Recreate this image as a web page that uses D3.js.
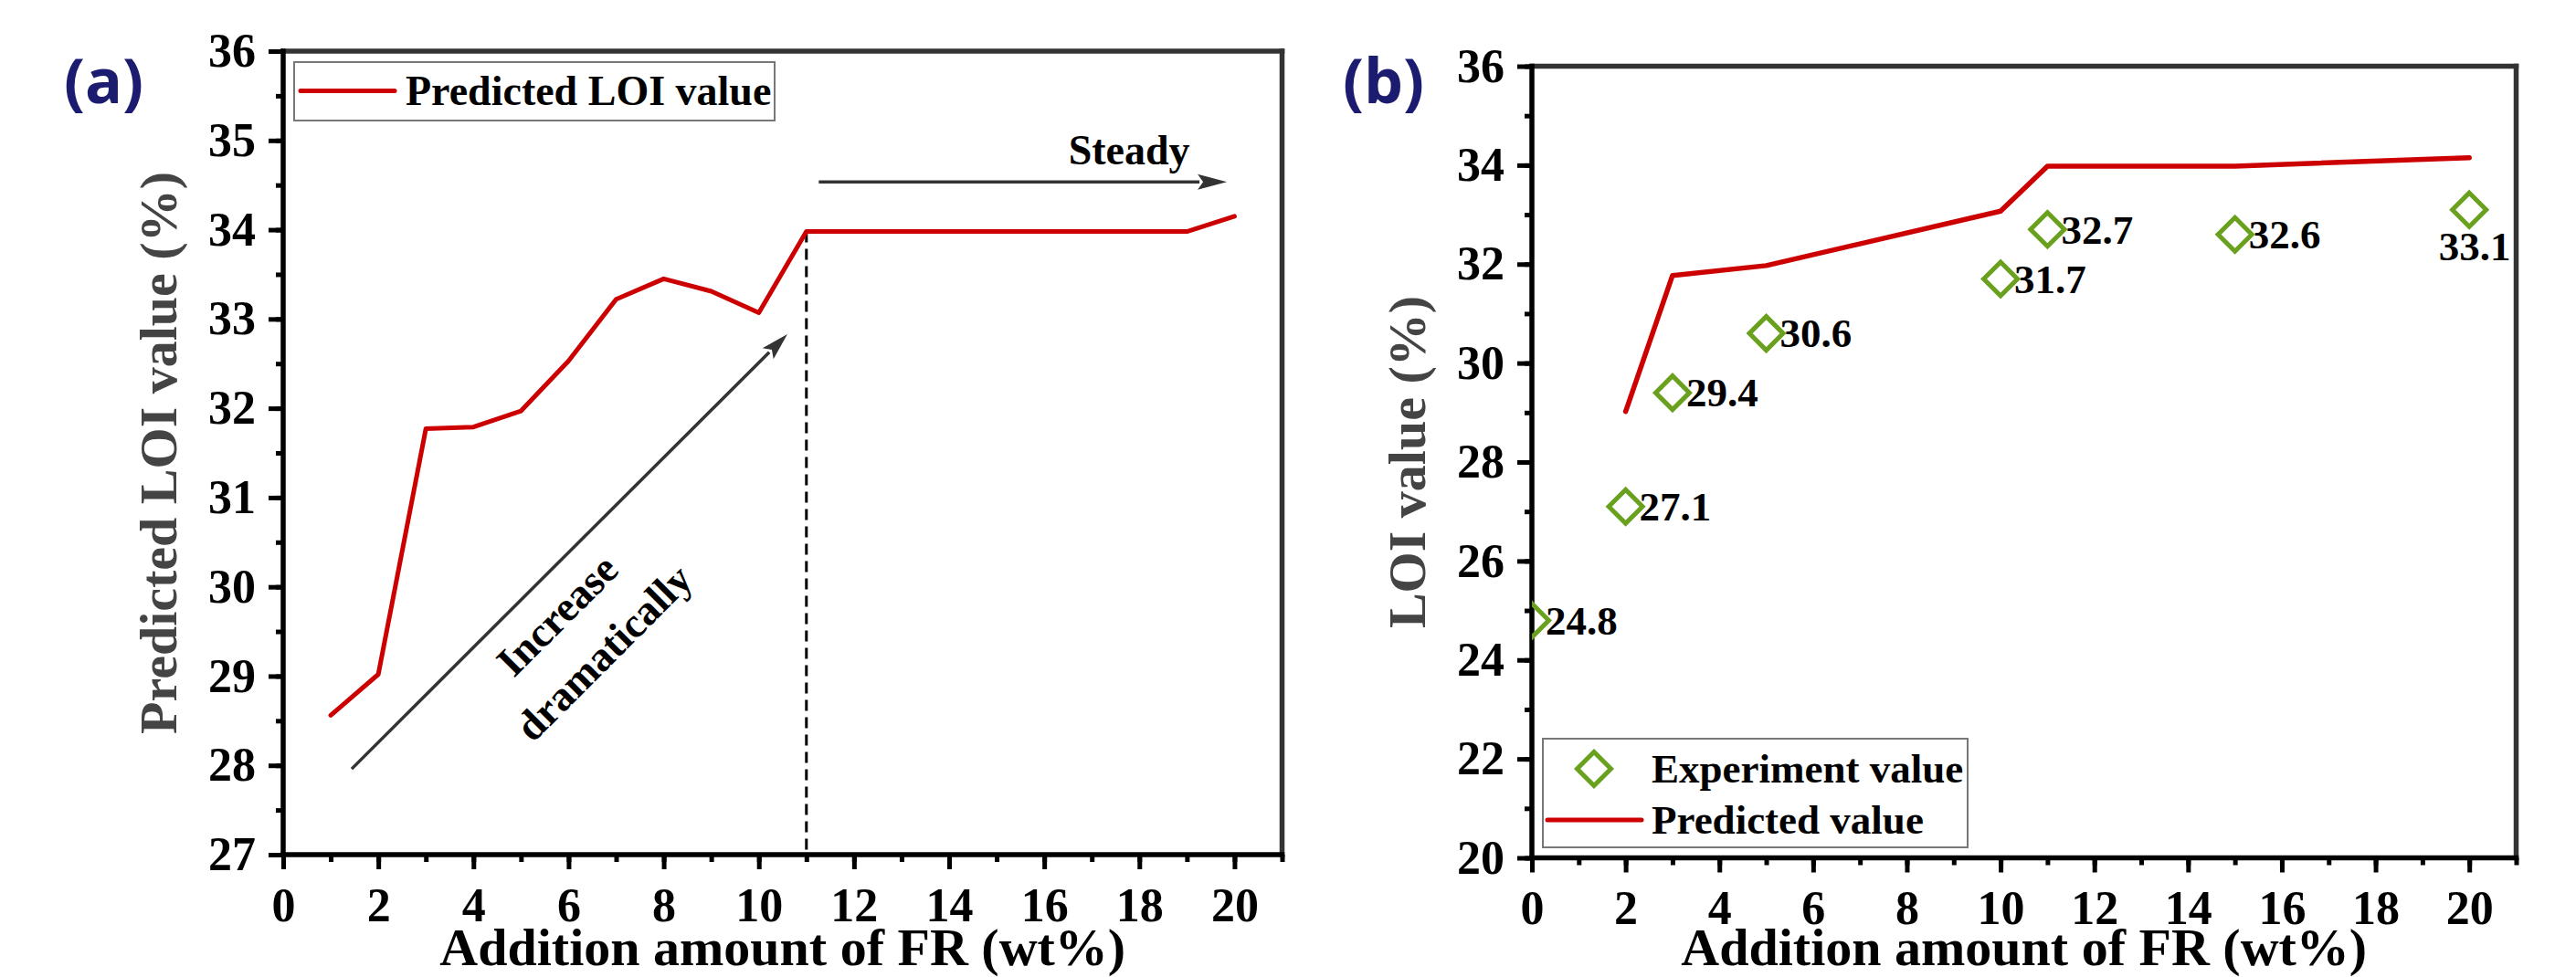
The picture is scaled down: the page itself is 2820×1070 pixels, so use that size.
<!DOCTYPE html>
<html>
<head>
<meta charset="utf-8">
<script src="https://cdn.jsdelivr.net/npm/d3@7/dist/d3.min.js"></script>
<style>
  html, body { margin: 0; padding: 0; background: #fff; }
  svg { display: block; }
  text { font-family: "Liberation Serif", "Times New Roman", serif; font-weight: bold; }
</style>
</head>
<body>
<svg id="chart" width="2820" height="1070"></svg>
<script>
// ---------- data ----------
const xTickValues = [0, 2, 4, 6, 8, 10, 12, 14, 16, 18, 20];
const xMinorValues = d3.range(0, 22, 1);

// panel (a)
const predA_x = [1, 2, 3, 4, 5, 6, 7, 8, 9, 10, 11, 12, 13, 14, 15, 16, 17, 18, 19, 20];
const predA_y = [28.56, 29.02, 31.77, 31.79, 31.97, 32.53, 33.22, 33.45, 33.31, 33.07,
                 33.98, 33.98, 33.98, 33.98, 33.98, 33.98, 33.98, 33.98, 33.98, 34.15];
const yTicksA = [27, 28, 29, 30, 31, 32, 33, 34, 35, 36];
const yMinorA = d3.range(27, 36.01, 0.5);
const dashedX = 11;
const arrowIncrease = [[1.44, 27.96], [10.6, 32.83]];
const arrowSteady = [[11.26, 34.535], [19.84, 34.535]];
const steadyText = {x: 16.51, y: 34.73, label: "Steady"};
const increaseText = [{x: 5.97, y: 29.57, label: "Increase"}, {x: 6.95, y: 29.15, label: "dramatically"}];

// panel (b)
const expX = [0, 2, 3, 5, 10, 11, 15, 20];
const expY = [24.8, 27.1, 29.4, 30.6, 31.7, 32.7, 32.6, 33.1];
const predB_x = [2, 3, 5, 10, 11, 15, 20];
const predB_y = [29.02, 31.77, 31.97, 33.07, 33.98, 33.98, 34.15];
const yTicksB = [20, 22, 24, 26, 28, 30, 32, 34, 36];
const yMinorB = d3.range(20, 36.01, 1);

// ---------- style ----------
const RED = "#cc0000";
const GREEN = "#69a11e";
const NAVY = "#1b1b6f";
const DARK = "#333333";

const svg = d3.select("#chart");

function panel(box, xDomain, yDomain, yMajor, yMinor, yTitle, titleBaseline) {
  const g = svg.append("g");
  const x = d3.scaleLinear(xDomain, [box.left, box.right]);
  const y = d3.scaleLinear(yDomain, [box.bottom, box.top]);

  // minor ticks
  g.append("g").attr("transform", `translate(0,${box.bottom})`)
    .call(d3.axisBottom(x).tickValues(xMinorValues).tickSize(8).tickSizeOuter(0).tickFormat(""))
    .call(s => s.select(".domain").remove());
  g.append("g").attr("transform", `translate(${box.left},0)`)
    .call(d3.axisLeft(y).tickValues(yMinor).tickSize(8).tickSizeOuter(0).tickFormat(""))
    .call(s => s.select(".domain").remove());
  // major ticks
  g.append("g").attr("transform", `translate(0,${box.bottom})`)
    .call(d3.axisBottom(x).tickValues(xTickValues).tickSize(16).tickPadding(20).tickSizeOuter(0).tickFormat(d3.format("d")))
    .call(s => s.select(".domain").remove())
    .call(s => s.selectAll("text").attr("font-size", 52).attr("fill", "#000")
      .style("font-family", '"Liberation Serif", serif').style("font-weight", "bold"));
  g.append("g").attr("transform", `translate(${box.left},0)`)
    .call(d3.axisLeft(y).tickValues(yMajor).tickSize(16).tickPadding(14).tickSizeOuter(0).tickFormat(d3.format("d")))
    .call(s => s.select(".domain").remove())
    .call(s => s.selectAll("text").attr("font-size", 52).attr("fill", "#000")
      .style("font-family", '"Liberation Serif", serif').style("font-weight", "bold"));
  g.selectAll(".tick line").attr("stroke", "#000").attr("stroke-width", 5);

  // frame
  g.append("line").attr("x1", box.left).attr("x2", box.right).attr("y1", box.top).attr("y2", box.top)
    .attr("stroke", DARK).attr("stroke-width", 5.5).attr("stroke-linecap", "square");
  g.append("line").attr("x1", box.right).attr("x2", box.right).attr("y1", box.top).attr("y2", box.bottom)
    .attr("stroke", DARK).attr("stroke-width", 5.5).attr("stroke-linecap", "square");
  g.append("line").attr("x1", box.left).attr("x2", box.right).attr("y1", box.bottom).attr("y2", box.bottom)
    .attr("stroke", "#000").attr("stroke-width", 5.5).attr("stroke-linecap", "square");
  g.append("line").attr("x1", box.left).attr("x2", box.left).attr("y1", box.top).attr("y2", box.bottom)
    .attr("stroke", "#000").attr("stroke-width", 5.5).attr("stroke-linecap", "square");

  // axis titles
  g.append("text").attr("x", (box.left + box.right) / 2).attr("y", titleBaseline)
    .attr("text-anchor", "middle").attr("font-size", 58).attr("fill", "#000")
    .text("Addition amount of FR (wt%)");
  g.append("text")
    .attr("transform", `translate(${box.left - 117},${(box.top + box.bottom) / 2}) rotate(-90)`)
    .attr("text-anchor", "middle").attr("font-size", 58).attr("fill", "#444444")
    .text(yTitle);
  return {g, x, y};
}

// ================= Panel (a) =================
const boxA = {left: 310, top: 56, right: 1403.5, bottom: 936};
const A = panel(boxA, [0, 21], [27, 36], yTicksA, yMinorA, "Predicted LOI value (%)", 1057);

svg.append("text").attr("x", 70).attr("y", 113).attr("font-size", 68)
  .style("font-family", '"Open Sans", sans-serif').style("font-weight", "bold")
  .attr("fill", NAVY).text("(a)");

// dashed line
A.g.append("line")
  .attr("x1", A.x(dashedX)).attr("x2", A.x(dashedX))
  .attr("y1", A.y(predA_y[predA_x.indexOf(dashedX)])).attr("y2", A.y(27))
  .attr("stroke", "#000").attr("stroke-width", 3).attr("stroke-dasharray", "12,7");

// predicted line
A.g.append("path")
  .datum(predA_x.map((d, i) => [d, predA_y[i]]))
  .attr("fill", "none").attr("stroke", RED).attr("stroke-width", 5)
  .attr("stroke-linejoin", "round").attr("stroke-linecap", "round")
  .attr("d", d3.line().x(d => A.x(d[0])).y(d => A.y(d[1])));

// arrows
function arrow(g, p0, p1, headLen, headHalf) {
  const dx = p1[0] - p0[0], dy = p1[1] - p0[1];
  const L = Math.hypot(dx, dy), ux = dx / L, uy = dy / L;
  const bx = p1[0] - ux * headLen, by = p1[1] - uy * headLen;
  g.append("line").attr("x1", p0[0]).attr("y1", p0[1]).attr("x2", bx + ux * 2).attr("y2", by + uy * 2)
    .attr("stroke", DARK).attr("stroke-width", 3.5);
  g.append("path")
    .attr("d", `M${p1[0]},${p1[1]} L${bx - uy * headHalf},${by + ux * headHalf} L${bx + ux * 6},${by + uy * 6} L${bx + uy * headHalf},${by - ux * headHalf} Z`)
    .attr("fill", DARK);
}
arrow(A.g, [A.x(arrowIncrease[0][0]), A.y(arrowIncrease[0][1])], [A.x(arrowIncrease[1][0]), A.y(arrowIncrease[1][1])], 30, 8.5);
arrow(A.g, [A.x(arrowSteady[0][0]), A.y(arrowSteady[0][1])], [A.x(arrowSteady[1][0]), A.y(arrowSteady[1][1])], 32, 8.5);

A.g.append("text").attr("x", A.x(steadyText.x)).attr("y", A.y(steadyText.y))
  .attr("font-size", 46).attr("fill", "#000").text(steadyText.label);

increaseText.forEach(t => {
  A.g.append("text")
    .attr("transform", `translate(${A.x(t.x)},${A.y(t.y)}) rotate(-45)`)
    .attr("text-anchor", "middle").attr("font-size", 46).attr("fill", "#000").text(t.label);
});

// legend (a)
const legA = A.g.append("g");
legA.append("rect").attr("x", 322).attr("y", 68).attr("width", 526).attr("height", 64)
  .attr("fill", "#fff").attr("stroke", "#777").attr("stroke-width", 2);
legA.append("line").attr("x1", 329).attr("x2", 432).attr("y1", 99.5).attr("y2", 99.5)
  .attr("stroke", RED).attr("stroke-width", 5).attr("stroke-linecap", "round");
legA.append("text").attr("x", 444).attr("y", 115).attr("font-size", 46).attr("fill", "#000")
  .text("Predicted LOI value");

// ================= Panel (b) =================
const boxB = {left: 1677, top: 72.5, right: 2754.5, bottom: 939.5};
const B = panel(boxB, [0, 21], [20, 36], yTicksB, yMinorB, "LOI value (%)", 1057);

svg.append("text").attr("x", 1470).attr("y", 113).attr("font-size", 68)
  .style("font-family", '"Open Sans", sans-serif').style("font-weight", "bold")
  .attr("fill", NAVY).text("(b)");

// predicted line
B.g.append("path")
  .datum(predB_x.map((d, i) => [d, predB_y[i]]))
  .attr("fill", "none").attr("stroke", RED).attr("stroke-width", 5.5)
  .attr("stroke-linejoin", "round").attr("stroke-linecap", "round")
  .attr("d", d3.line().x(d => B.x(d[0])).y(d => B.y(d[1])));

// clip for markers
svg.append("defs").append("clipPath").attr("id", "clipB").append("rect")
  .attr("x", boxB.left).attr("y", boxB.top).attr("width", boxB.right - boxB.left).attr("height", boxB.bottom - boxB.top);

const R = 18.5;
const diamond = `M0,${-R}L${R},0L0,${R}L${-R},0Z`;
B.g.append("g").attr("clip-path", "url(#clipB)")
  .selectAll("path").data(expX.map((d, i) => [d, expY[i]])).join("path")
  .attr("transform", d => `translate(${B.x(d[0])},${B.y(d[1])})`)
  .attr("d", diamond).attr("fill", "none").attr("stroke", GREEN).attr("stroke-width", 5);

// data labels
B.g.append("g").selectAll("text").data(expX.map((d, i) => [d, expY[i], i])).join("text")
  .attr("x", d => d[2] === expX.length - 1 ? B.x(d[0]) + 6 : B.x(d[0]) + 15)
  .attr("y", d => d[2] === expX.length - 1 ? B.y(d[1]) + 55 : B.y(d[1]))
  .attr("dy", d => d[2] === expX.length - 1 ? 0 : "0.34em")
  .attr("text-anchor", d => d[2] === expX.length - 1 ? "middle" : "start")
  .attr("font-size", 45).attr("fill", "#000")
  .text(d => d3.format(".1f")(d[1]));

// legend (b)
const legB = B.g.append("g");
legB.append("rect").attr("x", 1689).attr("y", 809).attr("width", 465).attr("height", 119)
  .attr("fill", "#fff").attr("stroke", "#777").attr("stroke-width", 2);
legB.append("path").attr("transform", "translate(1745,842)").attr("d", diamond)
  .attr("fill", "none").attr("stroke", GREEN).attr("stroke-width", 5);
legB.append("line").attr("x1", 1694).attr("x2", 1797).attr("y1", 898).attr("y2", 898)
  .attr("stroke", RED).attr("stroke-width", 5).attr("stroke-linecap", "round");
legB.append("text").attr("x", 1808).attr("y", 857).attr("font-size", 45).attr("fill", "#000").text("Experiment value");
legB.append("text").attr("x", 1808).attr("y", 913).attr("font-size", 45).attr("fill", "#000").text("Predicted value");
</script>
</body>
</html>
